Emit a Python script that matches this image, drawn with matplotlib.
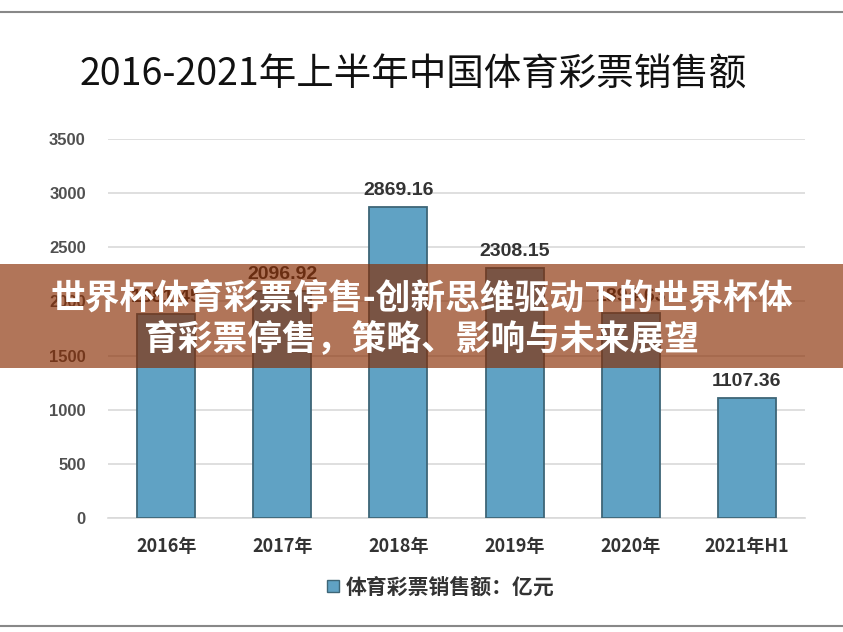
import matplotlib
matplotlib.use("Agg")
import matplotlib.pyplot as plt
from matplotlib.patches import Rectangle
from matplotlib.lines import Line2D

plt.rcParams['font.family'] = ['Noto Sans CJK SC', 'DejaVu Sans']

categories = ["2016年", "2017年", "2018年", "2019年", "2020年", "2021年H1"]
values = [1881.45, 2096.92, 2869.16, 2308.15, 1894.63, 1107.36]
value_labels = ["1881.45", "2096.92", "2869.16", "2308.15", "1894.63", "1107.36"]
yticks = [0, 500, 1000, 1500, 2000, 2500, 3000, 3500]
title = "2016-2021年上半年中国体育彩票销售额"
legend_label = "体育彩票销售额：亿元"
banner_lines = ["世界杯体育彩票停售-创新思维驱动下的世界杯体", "育彩票停售，策略、影响与未来展望"]

W, H = 843, 632
fig = plt.figure(figsize=(W / 100, H / 100), dpi=100)
fig.patch.set_facecolor('white')

left, right = 108 / W, 805 / W
bottom, top = 1 - 518 / H, 1 - 139 / H
ax = fig.add_axes([left, bottom, right - left, top - bottom])

x = list(range(len(categories)))
bars = ax.bar(x, values, width=0.5, color='#60a2c4', edgecolor='#3e6677', linewidth=1.3, zorder=3)

ax.set_xlim(-0.5, len(categories) - 0.5)
ax.set_ylim(0, 3500)
ax.set_yticks(yticks)
ax.set_yticklabels([str(t) for t in yticks], fontsize=12, fontweight='bold', color='#505050',
                   family=['Liberation Sans', 'DejaVu Sans'])
ax.set_xticks(x)
ax.set_xticklabels(categories, fontsize=13, fontweight='bold', color='#333333')
ax.tick_params(axis='both', length=0)
ax.tick_params(axis='y', pad=16)
ax.tick_params(axis='x', pad=14)
ax.grid(axis='y', color='#d9d9d9', linewidth=1.2, zorder=0)
for s in ['top', 'right', 'left']:
    ax.spines[s].set_visible(False)
ax.spines['bottom'].set_color('#d9d9d9')
ax.spines['bottom'].set_linewidth(1.2)

for xi, v, lab in zip(x, values, value_labels):
    ax.annotate(lab, (xi, v), xytext=(0, 6), textcoords='offset points', ha='center', va='bottom',
                fontsize=14, fontweight='bold', color='#333333',
                family=['Liberation Sans', 'DejaVu Sans'], zorder=4)

fig.text(0.49, 1 - 75 / H, title, ha='center', va='center', fontsize=27, color='#111111')

handle = Line2D([], [], marker='s', linestyle='none', markersize=8,
                markerfacecolor='#60a2c4', markeredgecolor='#3e6677')
fig.legend([handle], [legend_label], loc='center', bbox_to_anchor=(0.52, 1 - 587 / H),
           frameon=False, prop={'size': 15, 'weight': 'bold'}, handletextpad=0.1,
           handlelength=1.0, labelcolor='#333333')

# border lines
fig.add_artist(Line2D([0, 1], [1 - 12 / H, 1 - 12 / H], color='#888888', linewidth=1.5))
fig.add_artist(Line2D([0, 1], [1 - 626 / H, 1 - 626 / H], color='#888888', linewidth=1.5))

# banner overlay
fig.add_artist(Rectangle((0, 1 - 368 / H), 1, (368 - 264) / H, transform=fig.transFigure,
                         facecolor=(136 / 255, 43 / 255, 0), alpha=0.65, edgecolor='none', zorder=10))
fig.text(0.5, 1 - 298 / H, banner_lines[0], ha='center', va='center', fontsize=25,
         fontweight='bold', color='white', zorder=11)
fig.text(0.5, 1 - 340 / H, banner_lines[1], ha='center', va='center', fontsize=25,
         fontweight='bold', color='white', zorder=11)

fig.savefig('out.png', dpi=100)
